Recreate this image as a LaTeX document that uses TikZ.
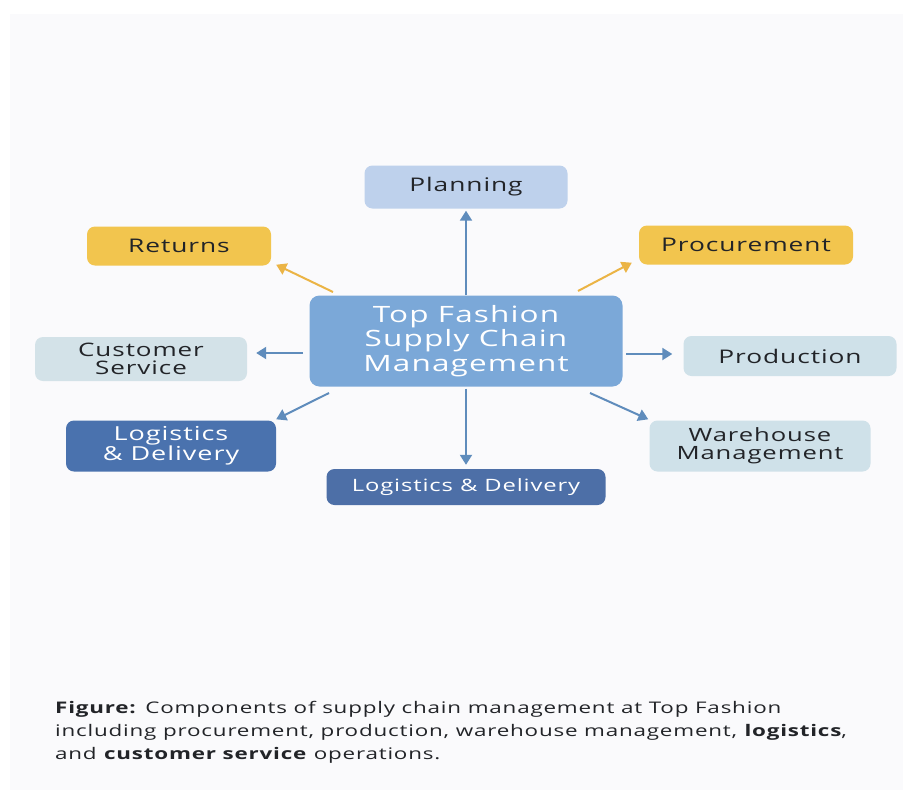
\documentclass[tikz,border=0pt]{standalone}
\usepackage{fontspec}
\setmainfont{Open Sans}[FakeStretch=1.4, LetterSpace=5]
\usetikzlibrary{arrows.meta,calc}
\definecolor{bgc}{HTML}{FAFAFC}
\definecolor{planc}{HTML}{BED1EC}
\definecolor{yelc}{HTML}{F2C54E}
\definecolor{cenc}{HTML}{7BA8D8}
\definecolor{custc}{HTML}{D3E2E8}
\definecolor{prodc}{HTML}{CFE1E9}
\definecolor{darkc}{HTML}{4A72AE}
\definecolor{botc}{HTML}{4D6FA7}
\definecolor{arrb}{HTML}{5F8CBC}
\definecolor{arry}{HTML}{EBB445}
\definecolor{txtc}{HTML}{222428}
\tikzset{
  box/.style={rounded corners=8pt, inner sep=0pt, align=center, text=txtc, font=\fontsize{18.8}{18}\selectfont},
  barr/.style={draw=arrb, line width=2pt, -{Triangle[length=10pt,width=12pt]}},
  yarr/.style={draw=arry, line width=2pt, -{Triangle[length=10pt,width=12pt]}},
}
\begin{document}
\begin{tikzpicture}[x=1pt,y=-1pt]
\useasboundingbox (0,0) rectangle (909,798);
\fill[white] (0,0) rectangle (909,798);
\fill[bgc] (10,14) rectangle (903,790);
% nodes
\node[box, fill=planc, minimum width=203pt, minimum height=43pt] (plan) at (466,187) {Planning};
\node[box, fill=yelc, minimum width=184pt, minimum height=39pt] (ret) at (179,246) {Returns};
\node[box, fill=yelc, minimum width=214pt, minimum height=39pt] (proc) at (746,245) {Procurement};
\node[box, fill=cenc, text=white, minimum width=313pt, minimum height=91pt, rounded corners=10pt, font=\fontsize{22.5}{24.5}\selectfont] (cen) at (466,341) {Top Fashion\\Supply Chain\\Management};
\node[box, fill=custc, minimum width=212pt, minimum height=44pt, font=\fontsize{18.6}{17.5}\selectfont] (cust) at (141,359) {Customer\\Service};
\node[box, fill=prodc, minimum width=213pt, minimum height=40pt] (prod) at (790,356) {Production};
\node[box, fill=darkc, text=white, minimum width=210pt, minimum height=51pt, font=\fontsize{19.3}{20}\selectfont] (logl) at (171,446) {Logistics\\\& Delivery};
\node[box, fill=prodc, minimum width=221pt, minimum height=51pt, font=\fontsize{18.3}{18}\selectfont] (ware) at (760,446) {Warehouse\\Management};
\node[box, fill=botc, text=white, minimum width=279pt, minimum height=36pt, font=\fontsize{17}{17}\selectfont] (logb) at (466,487) {Logistics \& Delivery};
% arrow start points
\coordinate (sR) at (333,292);
\coordinate (sP) at (578,291);
\coordinate (sC) at (303,353);
\coordinate (sD) at (626,354);
\coordinate (sL) at (329,393);
\coordinate (sW) at (590,393);
% arrows
\draw[barr, shorten <=0pt, shorten >=2pt] (cen.north) -- (plan.south);
\draw[barr, shorten <=2pt, shorten >=4pt] (cen.south) -- (logb.north);
\draw[yarr] (sR) -- ($(ret.south east)+(5,-1)$);
\draw[yarr] (sP) -- ($(proc.south west)+(-7,-2)$);
\draw[barr] (sC) -- ($(cust.east)+(9,-6)$);
\draw[barr] (sD) -- ($(prod.west)+(-11,-2)$);
\draw[barr] (sL) -- ($(logl.north east)+(0,-1)$);
\draw[barr] (sW) -- ($(ware.north west)+(-1,-1)$);
% caption
\node[anchor=north west, align=left, text=txtc, inner sep=0pt, font=\fontsize{16}{23}\selectfont] (cap) at (55,701)
{\textbf{Figure:} Components of supply chain management at Top Fashion\\
including procurement, production, warehouse management, \textbf{logistics},\\
and \textbf{customer service} operations.};
\end{tikzpicture}
\end{document}
